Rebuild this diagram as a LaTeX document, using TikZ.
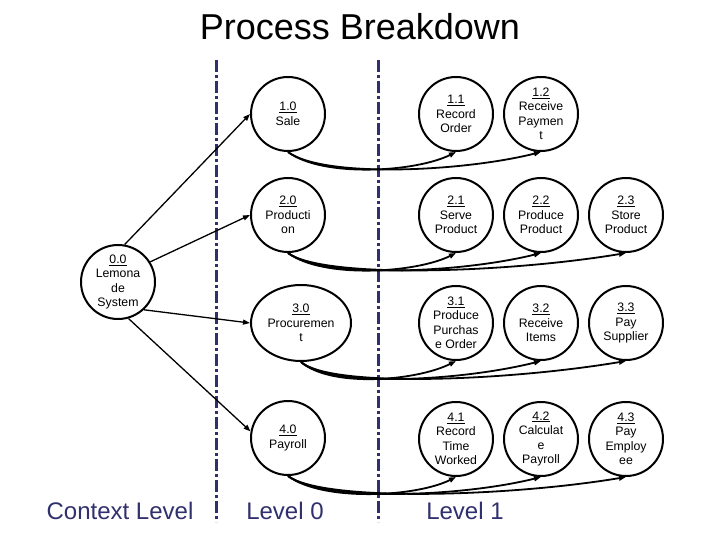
\documentclass[tikz,border=0pt]{standalone}
\usepackage{fontspec}
\setmainfont{Liberation Sans}
\usetikzlibrary{arrows.meta,shapes.geometric}
\definecolor{navy}{RGB}{48,48,110}
\tikzset{
  proc/.style={circle,draw=black,line width=2pt,minimum size=74pt,inner sep=0pt,
    align=center,font=\fontsize{12.3}{14.5}\selectfont},
  procell/.style={ellipse,draw=black,line width=2pt,minimum width=100pt,minimum height=76pt,inner sep=0pt,
    align=center,font=\fontsize{12.3}{14.5}\selectfont},
  divider/.style={navy,line width=3pt,dash pattern=on 12pt off 3pt on 3pt off 3pt},
  lvl/.style={navy,font=\fontsize{24}{26}\selectfont},
  feed/.style={line width=1.3pt,-{Triangle[length=7pt,width=5pt]}},
  sub/.style={line width=1.8pt,-{Triangle[length=7pt,width=5pt]}}
}
\begin{document}
\begin{tikzpicture}[x=1pt,y=-1pt]
\useasboundingbox (0,0) rectangle (720,540);
% title
\node[font=\fontsize{36}{40}\selectfont] (title) at (360,27) {Process Breakdown};
% dividers
\coordinate (d1t) at (216,60); \coordinate (d1b) at (216,522);
\coordinate (d2t) at (378,60); \coordinate (d2b) at (378,522);
\draw[divider] (d1t) -- (d1b);
\draw[divider] (d2t) -- (d2b);
% level labels
\node[lvl] (lc) at (120,511) {Context Level};
\node[lvl] (l0) at (285,511) {Level 0};
\node[lvl] (l1) at (465,511) {Level 1};
% context
\node[proc] (c0) at (118,282) {\underline{0.0}\\Lemona\\de\\System};
% level 0
\node[proc] (n10) at (288,114) {\underline{1.0}\\Sale};
\node[proc] (n20) at (288,215) {\underline{2.0}\\Producti\\on};
\node[procell] (n30) at (301,323) {\underline{3.0}\\Procuremen\\t};
\node[proc] (n40) at (288,438) {\underline{4.0}\\Payroll};
% level 1
\node[proc] (n11) at (456,114) {\underline{1.1}\\Record\\Order};
\node[proc] (n12) at (541,114) {\underline{1.2}\\Receive\\Paymen\\t};
\node[proc] (n21) at (456,215) {\underline{2.1}\\Serve\\Product};
\node[proc] (n22) at (541,215) {\underline{2.2}\\Produce\\Product};
\node[proc] (n23) at (626,215) {\underline{2.3}\\Store\\Product};
\node[proc] (n31) at (456,323) {\underline{3.1}\\Produce\\Purchas\\e Order};
\node[proc] (n32) at (541,323) {\underline{3.2}\\Receive\\Items};
\node[proc] (n33) at (626,323) {\underline{3.3}\\Pay\\Supplier};
\node[proc] (n41) at (456,439) {\underline{4.1}\\Record\\Time\\Worked};
\node[proc] (n42) at (541,439) {\underline{4.2}\\Calculat\\e\\Payroll};
\node[proc] (n43) at (626,439) {\underline{4.3}\\Pay\\Employ\\ee};
% context to level 0
\draw[feed] (c0.80) -- (n10.west);
\draw[feed] (c0.32) -- (n20.west);
\draw[feed] (c0.-47) -- (n30.west);
\draw[feed] (c0.-74) -- (n40.170);
% level 0 to level 1
\draw[sub] (n10.south) .. controls +(35,26) and +(-40,20) .. (n11.south);
\draw[sub] (n10.south) .. controls +(35,26) and +(-80,20) .. (n12.south);
\draw[sub] (n20.south) .. controls +(35,26) and +(-40,20) .. (n21.south);
\draw[sub] (n20.south) .. controls +(35,26) and +(-80,20) .. (n22.south);
\draw[sub] (n20.south) .. controls +(35,26) and +(-120,20) .. (n23.south);
\draw[sub] (n30.south) .. controls +(30,26) and +(-40,20) .. (n31.south);
\draw[sub] (n30.south) .. controls +(30,26) and +(-80,20) .. (n32.south);
\draw[sub] (n30.south) .. controls +(30,26) and +(-120,20) .. (n33.south);
\draw[sub] (n40.south) .. controls +(35,26) and +(-40,20) .. (n41.south);
\draw[sub] (n40.south) .. controls +(35,26) and +(-80,20) .. (n42.south);
\draw[sub] (n40.south) .. controls +(35,26) and +(-120,20) .. (n43.south);
\end{tikzpicture}
\end{document}
